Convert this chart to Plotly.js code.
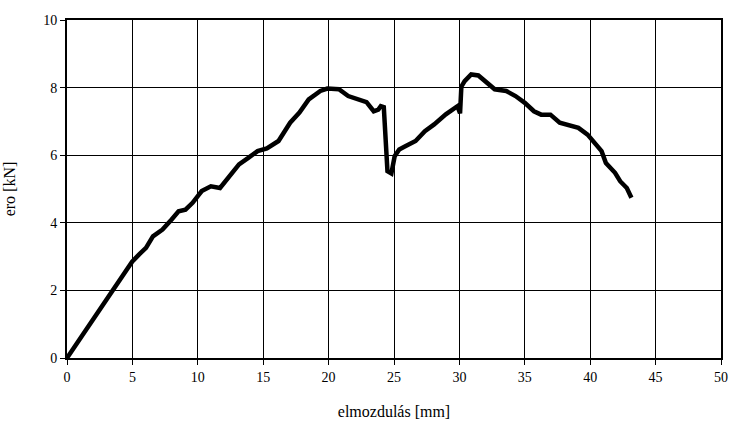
<!DOCTYPE html>
<html>
<head>
<meta charset="utf-8">
<script src="https://cdn.plot.ly/plotly-3.0.1.min.js"></script>
<style>
html,body{margin:0;padding:0;background:#fff;}
#chart{width:729px;height:430px;}
</style>
</head>
<body>
<div id="chart"></div>
<script>
var displacement = [0, 4.98, 5.5, 6.04, 6.57, 7.3, 8.0, 8.53, 9.06, 9.6, 10.3, 11.0, 11.7, 12.4, 13.15, 13.86, 14.57, 15.28, 16.17, 17.06, 17.77, 18.48, 19.37, 19.9, 20.79, 21.5, 22.2, 22.9, 23.45, 23.8, 23.99, 24.22, 24.5, 24.8, 25.05, 25.4, 25.9, 26.65, 27.36, 28.07, 28.96, 29.85, 30.05, 30.15, 30.4, 30.9, 31.45, 31.98, 32.7, 33.58, 34.29, 35.0, 35.7, 36.25, 36.96, 37.67, 38.37, 39.1, 39.8, 40.3, 40.87, 41.2, 41.9, 42.29, 42.8, 43.15];
var force = [0, 2.85, 3.06, 3.26, 3.6, 3.8, 4.1, 4.34, 4.39, 4.59, 4.94, 5.08, 5.03, 5.38, 5.73, 5.92, 6.12, 6.2, 6.42, 6.96, 7.26, 7.65, 7.9, 7.97, 7.95, 7.75, 7.65, 7.57, 7.3, 7.35, 7.45, 7.42, 5.53, 5.46, 5.97, 6.17, 6.27, 6.42, 6.71, 6.91, 7.21, 7.45, 7.24, 8.03, 8.19, 8.39, 8.36, 8.19, 7.95, 7.9, 7.75, 7.55, 7.3, 7.2, 7.2, 6.96, 6.88, 6.81, 6.61, 6.37, 6.12, 5.77, 5.48, 5.23, 5.03, 4.74];
var xTicks = [0, 5, 10, 15, 20, 25, 30, 35, 40, 45, 50];
var yTicks = [0, 2, 4, 6, 8, 10];

var fam = 'Liberation Serif';

Plotly.newPlot('chart', [{
  x: displacement, y: force, type: 'scatter', mode: 'lines',
  line: {color: '#000', width: 4.5}, hoverinfo: 'skip'
}], {
  width: 729, height: 430,
  margin: {l: 67, r: 8, t: 20, b: 72},
  paper_bgcolor: '#fff', plot_bgcolor: '#fff',
  showlegend: false,
  font: {family: fam, size: 14, color: '#000'},
  xaxis: {
    range: [0, 50], tickvals: xTicks, ticktext: xTicks.map(String),
    showgrid: true, gridcolor: '#000', gridwidth: 1,
    showline: true, linecolor: '#000', linewidth: 2, mirror: true,
    ticks: 'outside', ticklen: 5, tickwidth: 1, tickcolor: '#000',
    zeroline: false,
    tickfont: {family: fam, size: 14, color: '#000'},
    title: {text: 'elmozdulás [mm]', font: {family: fam, size: 16, color: '#000'}, standoff: 22}
  },
  yaxis: {
    range: [0, 10], tickvals: yTicks, ticktext: yTicks.map(String),
    showgrid: true, gridcolor: '#000', gridwidth: 1,
    showline: true, linecolor: '#000', linewidth: 2, mirror: true,
    ticks: 'outside', ticklen: 5, tickwidth: 1, tickcolor: '#000',
    zeroline: false,
    tickfont: {family: fam, size: 14, color: '#000'},
    title: {text: 'ero [kN]', font: {family: fam, size: 16, color: '#000'}, standoff: 24}
  }
}, {displayModeBar: false, staticPlot: true}).then(function (gd) {
  var texts = gd.querySelectorAll('text');
  for (var i = 0; i < texts.length; i++) {
    texts[i].style.fontFamily = "'Liberation Serif', serif";
  }
});
</script>
</body>
</html>
